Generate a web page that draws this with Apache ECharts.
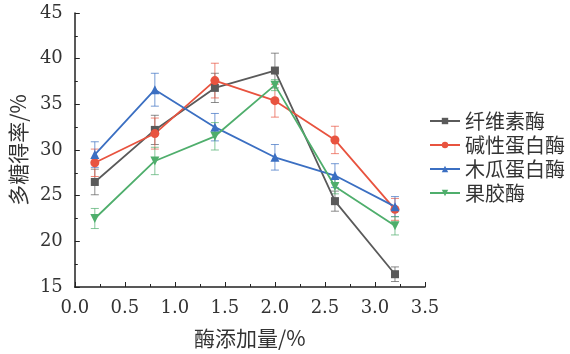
<!DOCTYPE html>
<html>
<head>
<meta charset="utf-8">
<script src="https://cdn.jsdelivr.net/npm/echarts@6/dist/echarts.min.js"></script>
<style>
  html, body { margin: 0; padding: 0; background: #fff; }
  #chart { width: 570px; height: 354px; }
</style>
</head>
<body>
<div id="chart"></div>
<script>
// 酶添加量/%
var doses = [0.2, 0.8, 1.4, 2.0, 2.6, 3.2];
var names = ['纤维素酶', '碱性蛋白酶', '木瓜蛋白酶', '果胶酶'];
// 多糖得率/% and standard deviations
var cellulase = [26.5, 32.2, 36.8, 38.7, 24.4, 16.4];
var cellulaseErr = [1.4, 1.6, 1.6, 1.9, 1.1, 0.8];
var alkaline = [28.6, 31.8, 37.6, 35.4, 31.1, 23.5];
var alkalineErr = [1.5, 1.7, 1.9, 1.8, 1.5, 1.2];
var papain = [29.5, 36.6, 32.5, 29.2, 27.2, 23.8];
var papainErr = [1.4, 1.8, 1.5, 1.4, 1.3, 1.1];
var pectinase = [22.5, 28.8, 31.5, 37.1, 26.0, 21.7];
var pectinaseErr = [1.1, 1.5, 1.5, 0.6, 0.8, 1.0];

var colors = ['#5a5a5a', '#e8533f', '#3b6fc2', '#4fae6c'];
var symbols = ['rect', 'circle', 'triangle', 'triangle'];
var rotates = [0, 0, 0, 180];
var values = [cellulase, alkaline, papain, pectinase];
var errs = [cellulaseErr, alkalineErr, papainErr, pectinaseErr];

var cjk = 'Noto Sans CJK SC';
var serif = 'DejaVu Serif';

var myChart = echarts.init(document.getElementById('chart'));

var series = [];
names.forEach(function (name, i) {
  // 误差棒
  series.push({
    type: 'custom',
    name: name + '-err',
    z: 1,
    silent: true,
    data: doses.map(function (x, k) {
      return [x, values[i][k] - errs[i][k], values[i][k] + errs[i][k]];
    }),
    renderItem: function (params, api) {
      var lo = api.coord([api.value(0), api.value(1)]);
      var hi = api.coord([api.value(0), api.value(2)]);
      var w = 4;
      var st = { stroke: colors[i], lineWidth: 1, opacity: 0.7 };
      return {
        type: 'group',
        children: [
          { type: 'line', shape: { x1: lo[0], y1: lo[1], x2: hi[0], y2: hi[1] }, style: st },
          { type: 'line', shape: { x1: lo[0] - w, y1: lo[1], x2: lo[0] + w, y2: lo[1] }, style: st },
          { type: 'line', shape: { x1: hi[0] - w, y1: hi[1], x2: hi[0] + w, y2: hi[1] }, style: st }
        ]
      };
    }
  });
  series.push({
    type: 'line',
    name: name,
    z: 3,
    data: doses.map(function (x, k) { return [x, values[i][k]]; }),
    symbol: symbols[i],
    symbolRotate: rotates[i],
    symbolSize: i === 0 ? 8 : 9,
    lineStyle: { color: colors[i], width: 1.8 },
    itemStyle: { color: colors[i] }
  });
});

myChart.setOption({
  animation: false,
  grid: { left: 70, right: 145, top: 13, bottom: 67 },
  legend: {
    data: names,
    orient: 'vertical',
    left: 424,
    top: 106,
    itemWidth: 30,
    itemHeight: 8,
    itemGap: 4,
    textStyle: { fontFamily: cjk, fontSize: 20, color: '#333' }
  },
  xAxis: {
    type: 'value',
    min: 0,
    max: 3.5,
    interval: 0.5,
    name: '酶添加量/%',
    nameLocation: 'middle',
    nameGap: 41,
    nameTextStyle: { fontFamily: cjk, fontSize: 21, color: '#333' },
    axisLine: { show: true, lineStyle: { color: '#222', width: 1.5 } },
    axisTick: { inside: true, length: 5, lineStyle: { color: '#222' } },
    minorTick: { show: true, splitNumber: 2, length: 3, lineStyle: { color: '#222' } },
    splitLine: { show: false },
    axisLabel: {
      margin: 12,
      fontFamily: serif,
      fontSize: 18,
      color: '#333',
      formatter: function (v) { return v.toFixed(1); }
    }
  },
  yAxis: {
    type: 'value',
    min: 15,
    max: 45,
    interval: 5,
    name: '多糖得率/%',
    nameLocation: 'middle',
    nameGap: 44,
    nameTextStyle: { fontFamily: cjk, fontSize: 21, color: '#333' },
    axisLine: { show: true, lineStyle: { color: '#222', width: 1.5 } },
    axisTick: { inside: true, length: 5, lineStyle: { color: '#222' } },
    minorTick: { show: true, splitNumber: 2, length: 3, lineStyle: { color: '#222' } },
    splitLine: { show: false },
    axisLabel: { margin: 12, fontFamily: serif, fontSize: 18, color: '#333' }
  },
  series: series
});

window.addEventListener('resize', function () {
  myChart.resize();
});
</script>
</body>
</html>
